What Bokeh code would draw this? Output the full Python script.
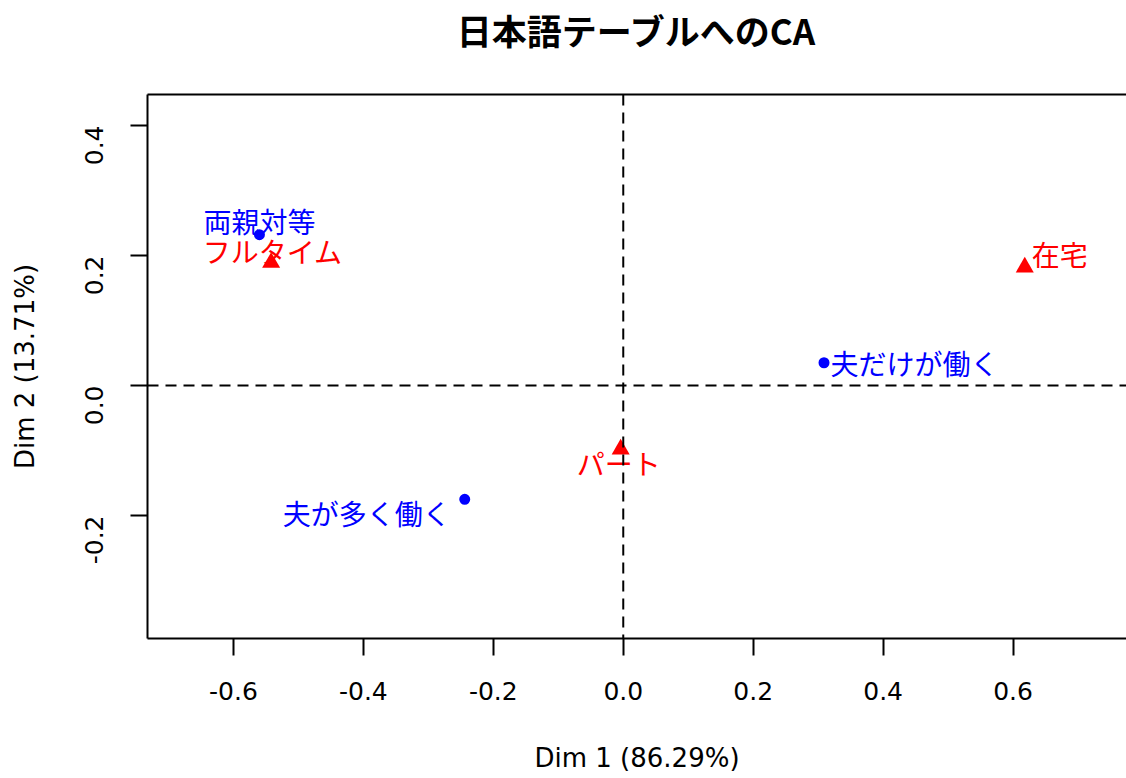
from bokeh.plotting import figure
from bokeh.models import ColumnDataSource, FixedTicker, PrintfTickFormatter, LinearAxis, Span, Range1d
from bokeh.core.properties import value
from bokeh.embed import file_html
from bokeh.resources import INLINE
import math

# ---- data ----
row_labels = ["両親対等", "夫が多く働く", "夫だけが働く"]
row_dim1 = [-0.560, -0.244, 0.309]
row_dim2 = [0.232, -0.175, 0.035]

col_labels = ["フルタイム", "パート", "在宅"]
col_dim1 = [-0.542, -0.004, 0.618]
col_dim2 = [0.189, -0.098, 0.182]

x_ticks = [-0.6, -0.4, -0.2, 0.0, 0.2, 0.4, 0.6]
y_ticks = [-0.2, 0.0, 0.2, 0.4]

title_text = "日本語テーブルへのCA"
x_title = "Dim 1 (86.29%)"
y_title = "Dim 2 (13.71%)"

# ---- label placement (style) ----
row_off_x = [0, -14, 6.5]
row_off_y = [-14, 14, 0]
row_align = ["center", "right", "left"]
col_off_x = [1.5, -2, 7]
col_off_y = [-11.5, 14, -13]
col_align = ["center", "center", "left"]

CJK = "Noto Sans CJK JP"
LAT = "DejaVu Sans"
FS = "25px"
AFS = "26px"
LFS = "28px"

p = figure(width=1126, height=778, output_backend="svg", toolbar_location=None,
           x_range=Range1d(-0.7323, 0.7746), y_range=Range1d(-0.3892, 0.4477),
           min_border_left=147, min_border_right=0, min_border_top=94, min_border_bottom=140)
p.outline_line_color = None
p.grid.visible = False
p.background_fill_color = "white"
p.border_fill_color = "white"

for ax in (p.xaxis[0], p.yaxis[0]):
    ax.axis_line_width = 2
    ax.major_tick_line_width = 2
    ax.minor_tick_line_color = None
    ax.major_tick_out = 17
    ax.major_tick_in = 0
    ax.major_label_text_font = LAT
    ax.major_label_text_font_size = FS
    ax.major_label_text_color = "black"
    ax.axis_label_text_font = LAT
    ax.axis_label_text_font_size = AFS
    ax.axis_label_text_font_style = "normal"
    ax.axis_label_text_color = "black"
    ax.formatter = PrintfTickFormatter(format="%.1f")

p.xaxis[0].ticker = FixedTicker(ticks=x_ticks)
p.yaxis[0].ticker = FixedTicker(ticks=y_ticks)
p.xaxis[0].axis_label = x_title
p.yaxis[0].axis_label = y_title
p.xaxis[0].major_label_standoff = 26
p.xaxis[0].axis_label_standoff = 40
p.xaxis[0].axis_label_text_line_height = 0.8
p.yaxis[0].major_label_orientation = math.pi / 2
p.yaxis[0].major_label_standoff = 36
p.yaxis[0].axis_label_standoff = 34

# top border of the box; its axis label carries the chart title
top = LinearAxis(ticker=FixedTicker(ticks=[]), axis_line_width=2,
                 major_tick_line_color=None, minor_tick_line_color=None,
                 major_tick_out=0, major_tick_in=0,
                 major_label_text_font_size="0px", major_label_standoff=0,
                 axis_label=title_text, axis_label_standoff=40,
                 axis_label_text_font=CJK, axis_label_text_font_size="35px",
                 axis_label_text_font_style="bold", axis_label_text_color="black")
p.add_layout(top, "above")

p.add_layout(Span(location=0, dimension="width", line_color="black", line_width=2, line_dash="11 7"))
p.add_layout(Span(location=0, dimension="height", line_color="black", line_width=2, line_dash="11 7"))

rows = ColumnDataSource(dict(x=row_dim1, y=row_dim2, t=row_labels, ox=row_off_x, oy=row_off_y, al=row_align))
cols = ColumnDataSource(dict(x=col_dim1, y=col_dim2, t=col_labels, ox=col_off_x, oy=col_off_y, al=col_align))

p.scatter("x", "y", source=rows, marker="circle", size=11, fill_color="blue", line_color=None)
p.scatter("x", "y", source=cols, marker="triangle", size=18, fill_color="red", line_color=None)

p.text("x", "y", text="t", source=rows, x_offset="ox", y_offset="oy", text_align="al",
       text_baseline="middle", text_color="blue", text_font=value(CJK), text_font_size=LFS)
p.text("x", "y", text="t", source=cols, x_offset="ox", y_offset="oy", text_align="al",
       text_baseline="middle", text_color="red", text_font=value(CJK), text_font_size=LFS)

open("out.html", "w").write(file_html(p, INLINE))
